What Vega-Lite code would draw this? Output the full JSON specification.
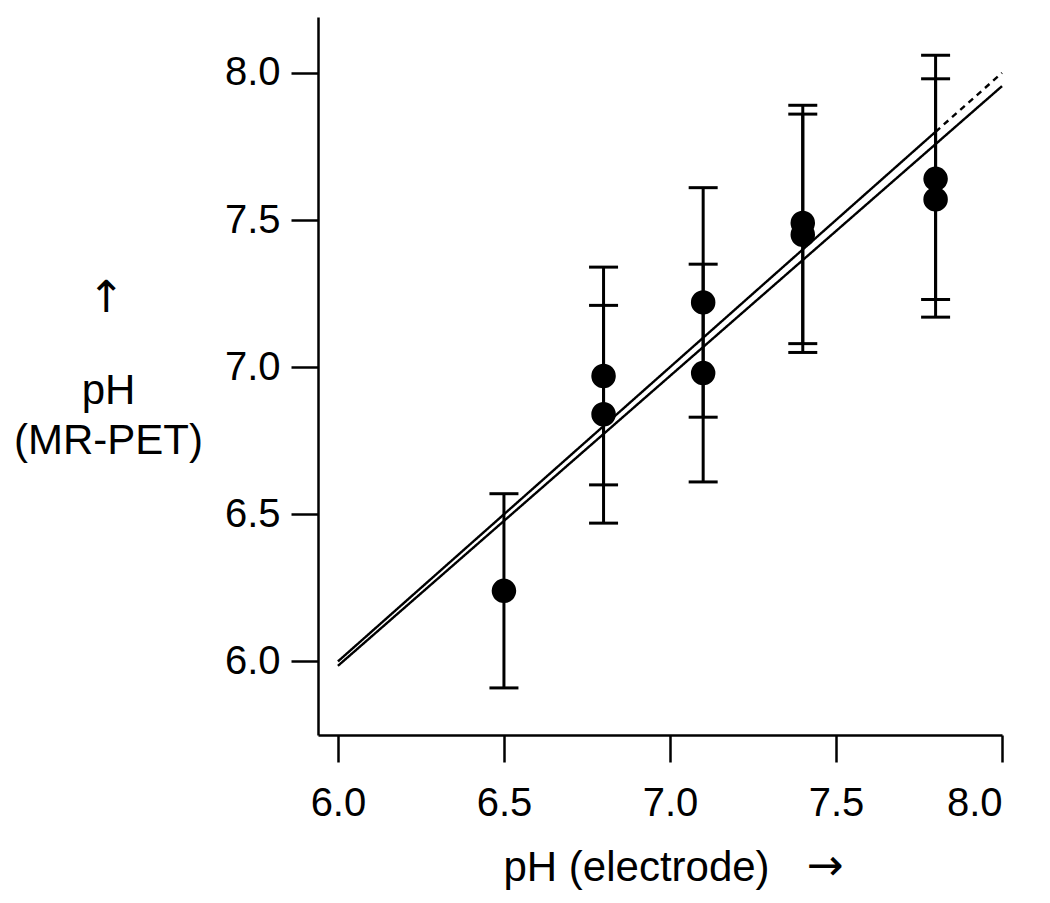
{
  "$schema": "https://vega.github.io/schema/vega-lite/v6.json",
  "width": 684,
  "height": 718,
  "autosize": {"type": "none"},
  "padding": {"left": 318, "top": 17, "right": 48, "bottom": 168},
  "background": "white",
  "config": {
    "view": {"stroke": null},
    "font": "Liberation Sans",
    "axis": {
      "grid": false,
      "domainColor": "black",
      "domainWidth": 2.5,
      "tickColor": "black",
      "tickWidth": 2.5,
      "tickSize": 27,
      "labelFont": "Liberation Sans",
      "labelFontSize": 40,
      "labelColor": "black",
      "titleFont": "Liberation Sans",
      "titleFontSize": 42,
      "titleFontWeight": "normal",
      "titleColor": "black"
    }
  },
  "resolve": {"axis": {"x": "independent", "y": "independent"}},
  "datasets": {
    "points": [
      {"ph_electrode": 6.5, "ph_mrpet": 6.24, "lo": 5.91, "hi": 6.57},
      {"ph_electrode": 6.8, "ph_mrpet": 6.97, "lo": 6.60, "hi": 7.34},
      {"ph_electrode": 6.8, "ph_mrpet": 6.84, "lo": 6.47, "hi": 7.21},
      {"ph_electrode": 7.1, "ph_mrpet": 7.22, "lo": 6.83, "hi": 7.61},
      {"ph_electrode": 7.1, "ph_mrpet": 6.98, "lo": 6.61, "hi": 7.35},
      {"ph_electrode": 7.4, "ph_mrpet": 7.49, "lo": 7.08, "hi": 7.89},
      {"ph_electrode": 7.4, "ph_mrpet": 7.45, "lo": 7.05, "hi": 7.86},
      {"ph_electrode": 7.8, "ph_mrpet": 7.64, "lo": 7.23, "hi": 8.06},
      {"ph_electrode": 7.8, "ph_mrpet": 7.57, "lo": 7.17, "hi": 7.98}
    ],
    "lines": [
      {"series": "fit", "style": "solid", "x": 6.0, "y": 5.985},
      {"series": "fit", "style": "solid", "x": 8.0, "y": 7.955},
      {"series": "identity", "style": "solid", "x": 6.0, "y": 6.0},
      {"series": "identity", "style": "solid", "x": 7.8, "y": 7.8},
      {"series": "identity_ext", "style": "dashed", "x": 7.8, "y": 7.8},
      {"series": "identity_ext", "style": "dashed", "x": 8.0, "y": 8.0}
    ]
  },
  "layer": [
    {
      "data": {"name": "lines"},
      "mark": {"type": "line", "color": "black", "strokeWidth": 2.4},
      "encoding": {
        "x": {
          "field": "x", "type": "quantitative",
          "scale": {"domain": [5.94, 8.0], "nice": false, "zero": false},
          "axis": {
            "orient": "bottom",
            "values": [6.0, 6.5, 7.0, 7.5, 8.0],
            "format": ".1f",
            "labelPadding": 21,
            "title": "pH (electrode)",
            "titleAlign": "left",
            "titleAnchor": null,
            "titleX": 185,
            "titleY": 145,
            "titleBaseline": "alphabetic"
          }
        },
        "y": {
          "field": "y", "type": "quantitative",
          "scale": {"domain": [5.75, 8.19], "nice": false, "zero": false},
          "axis": {
            "orient": "left",
            "values": [6.0, 6.5, 7.0, 7.5, 8.0],
            "format": ".1f",
            "labelPadding": 11,
            "title": ["pH", "(MR-PET)"],
            "titleAngle": 0,
            "titleAlign": "center",
            "titleAnchor": null,
            "titleBaseline": "alphabetic",
            "titleLineHeight": 50,
            "titleX": -210,
            "titleY": 386
          }
        },
        "detail": {"field": "series"},
        "strokeDash": {
          "field": "style", "type": "nominal",
          "scale": {"domain": ["solid", "dashed"], "range": [[1, 0], [6, 5]]},
          "legend": null
        }
      }
    },
    {
      "data": {"name": "points"},
      "mark": {"type": "rule", "color": "black", "strokeWidth": 3},
      "encoding": {
        "x": {"field": "ph_electrode", "type": "quantitative", "axis": null},
        "y": {"field": "lo", "type": "quantitative", "axis": null},
        "y2": {"field": "hi"}
      }
    },
    {
      "data": {"name": "points"},
      "transform": [{"fold": ["lo", "hi"], "as": ["bound", "value"]}],
      "mark": {"type": "tick", "orient": "horizontal", "color": "black", "opacity": 1, "size": 29, "thickness": 3},
      "encoding": {
        "x": {"field": "ph_electrode", "type": "quantitative", "axis": null},
        "y": {"field": "value", "type": "quantitative", "axis": null}
      }
    },
    {
      "data": {"name": "points"},
      "mark": {"type": "point", "shape": "circle", "filled": true, "color": "black", "opacity": 1, "size": 600},
      "encoding": {
        "x": {
          "field": "ph_electrode", "type": "quantitative",
          "axis": {
            "orient": "bottom",
            "labels": false, "ticks": false, "domain": false,
            "title": "→",
            "titleFont": "DejaVu Sans",
            "titleFontSize": 44,
            "titleAlign": "left",
            "titleAnchor": null,
            "titleX": 488,
            "titleY": 131,
            "titleBaseline": "middle"
          }
        },
        "y": {
          "field": "ph_mrpet", "type": "quantitative",
          "axis": {
            "orient": "left",
            "labels": false, "ticks": false, "domain": false,
            "title": "↑",
            "titleFont": "DejaVu Sans",
            "titleFontSize": 44,
            "titleAngle": 0,
            "titleAlign": "center",
            "titleAnchor": null,
            "titleX": -212,
            "titleY": 281,
            "titleBaseline": "middle"
          }
        }
      }
    }
  ]
}
